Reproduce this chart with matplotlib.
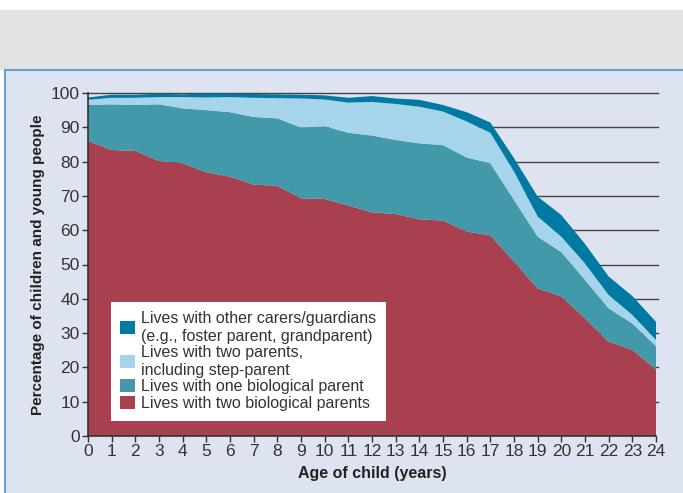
import matplotlib.pyplot as plt
from matplotlib.patches import Rectangle
from matplotlib.lines import Line2D

plt.rcParams['font.family'] = ['Liberation Sans', 'DejaVu Sans']

ages = list(range(25))
two_bio = [86.0, 83.4, 83.1, 80.2, 79.5, 76.9, 75.6, 73.3, 72.9, 69.3, 69.1, 67.2, 65.2,
           64.7, 63.2, 62.8, 59.6, 58.5, 50.9, 43.0, 40.7, 34.3, 27.5, 25.1, 19.4]
one_bio = [10.5, 13.3, 13.4, 16.5, 16.0, 18.1, 18.8, 19.7, 19.7, 20.6, 21.2, 21.2, 22.4,
           21.6, 22.1, 22.0, 21.6, 21.0, 17.9, 15.1, 12.9, 11.2, 9.7, 7.7, 6.8]
step = [1.5, 1.9, 2.1, 2.1, 3.3, 3.7, 4.4, 5.6, 5.9, 8.5, 7.8, 8.8, 9.8,
        10.5, 10.7, 9.8, 10.5, 8.9, 8.3, 5.9, 4.5, 4.8, 3.9, 2.5, 1.8]
other = [0.7, 0.9, 0.9, 1.0, 0.8, 1.2, 1.0, 1.1, 1.1, 1.1, 1.2, 1.4, 1.7,
         1.6, 2.0, 1.9, 2.7, 3.0, 3.9, 5.8, 6.3, 5.7, 5.4, 5.5, 5.3]

labels = ['Lives with two biological parents',
          'Lives with one biological parent',
          'Lives with two parents,\nincluding step-parent',
          'Lives with other carers/guardians\n(e.g., foster parent, grandparent)']
colors = ['#a8404f', '#4199aa', '#a6d4ea', '#0079a3']

fig = plt.figure(figsize=(6.83, 4.93), dpi=100)
fig.patch.set_facecolor('white')
# background bands
fig.patches.append(Rectangle((0, 1 - 70 / 493), 1, 60 / 493, transform=fig.transFigure,
                             facecolor='#e3e3e3', edgecolor='none', zorder=-5))
fig.patches.append(Rectangle((5 / 683, 0), 1, 1 - 70 / 493, transform=fig.transFigure,
                             facecolor='#dde3f0', edgecolor='none', zorder=-5))
fig.lines.append(Line2D([5 / 683, 1], [1 - 70 / 493] * 2, transform=fig.transFigure,
                        color='#6aa0cc', lw=1.5, zorder=-4))
fig.lines.append(Line2D([5 / 683] * 2, [0, 1 - 70 / 493], transform=fig.transFigure,
                        color='#6aa0cc', lw=1.5, zorder=-4))

ax = fig.add_axes([88 / 683, 1 - 436 / 493, (656 - 88) / 683, (436 - 93) / 493])
ax.set_zorder(1)
ax.set_facecolor('none')

for y in range(10, 101, 10):
    ax.plot([0, 24.1], [y, y], color='#444444', lw=1.0, zorder=1, clip_on=False)

polys = ax.stackplot(ages, two_bio, one_bio, step, other, colors=colors, labels=labels,
                     zorder=2, lw=0)

ax.set_xlim(0, 24)
ax.set_ylim(0, 100)
ax.set_xticks(ages)
ax.set_yticks(range(0, 101, 10))
ax.tick_params(labelsize=12.5, colors='#333333', length=4, width=1, pad=2)
for s in ['top', 'right']:
    ax.spines[s].set_visible(False)
for s in ['left', 'bottom']:
    ax.spines[s].set_color('#333333')
    ax.spines[s].set_linewidth(1.2)
    ax.spines[s].set_zorder(3)

ax.set_xlabel('Age of child (years)', fontsize=11.5, fontweight='bold', color='#222222',
              labelpad=5)
ax.set_ylabel('Percentage of children and young people', fontsize=11, fontweight='bold',
              color='#222222', labelpad=4)

handles = polys[::-1]
leg = ax.legend(handles, labels[::-1], loc='lower left', bbox_to_anchor=(0.04, 0.045),
                frameon=True, fancybox=False, fontsize=11.5, handlelength=0.9,
                handleheight=0.9, handletextpad=0.4, labelspacing=0.1,
                borderpad=0.6, borderaxespad=0)
leg.get_frame().set_facecolor('white')
leg.get_frame().set_edgecolor('none')
leg.get_frame().set_alpha(1)
for t in leg.get_texts():
    t.set_color('#333333')

fig.savefig('out.png', dpi=100)
